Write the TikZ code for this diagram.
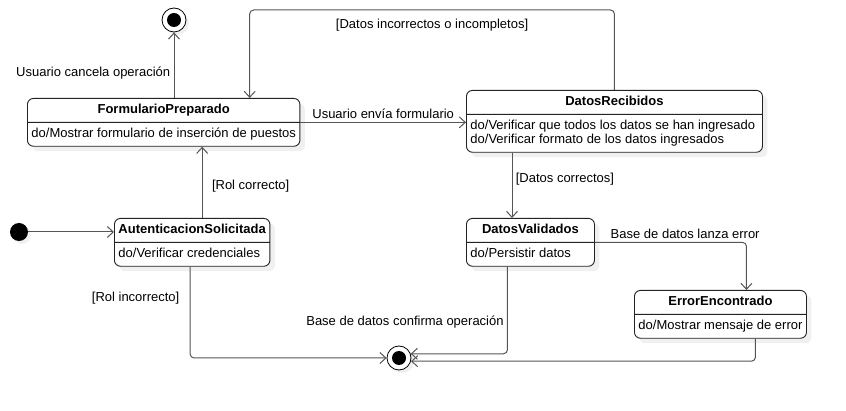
\documentclass[tikz,border=0pt]{standalone}
\usepackage{fontspec}
\setmainfont{Liberation Sans}
\usepackage{xcolor}
\definecolor{wire}{HTML}{555555}
\definecolor{frame}{HTML}{222222}
\usetikzlibrary{shapes.multipart, arrows.meta, positioning, calc, shadows}

\begin{document}
\begin{tikzpicture}[x=1pt, y=-1pt,
  every node/.style={font=\fontsize{13}{14}\selectfont},
  statebox/.style={draw=frame, line width=0.9pt, fill=white, rounded corners=6pt,
    rectangle split, rectangle split parts=2,
    rectangle split part align={center,left},
    inner xsep=4pt, inner ysep=4.5pt, anchor=north west,
    drop shadow={opacity=0.12, shadow xshift=5pt, shadow yshift=-5pt}},
  trans/.style={draw=wire, line width=1pt, rounded corners=4pt,
    -{Straight Barb[length=6pt,width=11pt]}},
  initst/.style={circle, fill=black, minimum size=18pt, inner sep=0pt,
    drop shadow={opacity=0.12, shadow xshift=3pt, shadow yshift=-3pt}},
  finst/.style={circle, draw=black, line width=0.8pt, fill=white,
    minimum size=24pt, inner sep=0pt,
    path picture={\fill[black] (path picture bounding box.center) circle (7pt);},
    drop shadow={opacity=0.12, shadow xshift=3pt, shadow yshift=-3pt}}
]
  \useasboundingbox (0,0) rectangle (846,411);

  % States
  \node[statebox] (form) at (27,98)
    {\textbf{FormularioPreparado}\strut
     \nodepart{two}do/Mostrar formulario de inserción de puestos\strut};
  \node[statebox, minimum width=296pt] (recv) at (466,90)
    {\textbf{DatosRecibidos}\strut
     \nodepart{two}\begin{tabular}{@{}l@{}}
       do/Verificar que todos los datos se han ingresado\\
       do/Verificar formato de los datos ingresados
     \end{tabular}};
  \node[statebox] (auth) at (114,218)
    {\textbf{AutenticacionSolicitada}\strut
     \nodepart{two}do/Verificar credenciales\strut};
  \node[statebox, minimum width=128pt] (valid) at (466,218)
    {\textbf{DatosValidados}\strut
     \nodepart{two}do/Persistir datos\strut};
  \node[statebox] (err) at (634,290)
    {\textbf{ErrorEncontrado}\strut
     \nodepart{two}do/Mostrar mensaje de error\strut};

  % Pseudo states
  \node[initst] (ini) at (19,232) {};
  \node[finst] (fintop) at (174,20) {};
  \node[finst] (finbot) at (399,358) {};

  % Transitions
  \draw[trans] (ini) -- (ini -| auth.west);
  \draw[trans] ([xshift=10pt]auth.north)
    -- node[right=6pt, pos=0.45] {[Rol correcto]} ([xshift=10pt]auth.north |- form.south);
  \draw[trans] (form.north -| fintop)
    -- node[left, pos=0.38] {Usuario cancela operación} (fintop);
  \draw[trans] (form.east)
    -- node[above] {Usuario envía formulario} (form.east -| recv.west);
  \draw[trans] (recv.north) -- ++(0,-80)
    -| node[below=5pt, pos=0.25] {[Datos incorrectos o incompletos]} ([xshift=86pt]form.north);
  \draw[trans] ([xshift=46pt]recv.south west)
    -- node[right, pos=0.4] {[Datos correctos]} ([xshift=46pt]recv.south west |- valid.north);
  \draw[trans] (valid.east)
    -| node[above right, pos=0, xshift=12pt] {Base de datos lanza error} ([xshift=26pt]err.north);
  \draw[trans] ([xshift=-23pt]valid.south)
    |- node[left, pos=0.32] {Base de datos confirma operación} (finbot.20);
  \draw[trans] ([xshift=35pt]err.south) |- (finbot.-15);
  \draw[trans] ([xshift=-2pt]auth.south)
    |- node[left=7pt, pos=0.17] {[Rol incorrecto]} (finbot.west);
\end{tikzpicture}
\end{document}
